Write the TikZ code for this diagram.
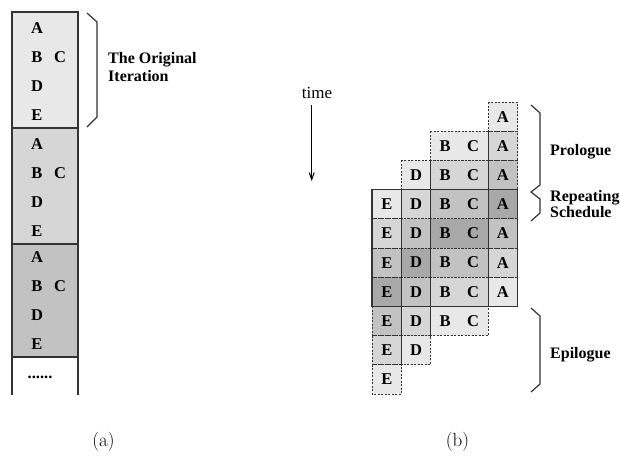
\documentclass[tikz,border=0pt]{standalone}
\usepackage{fontspec}
\newfontfamily\tms{Liberation Serif}
\usetikzlibrary{arrows.meta}
\definecolor{sA}{HTML}{E8E8E8}
\definecolor{sB}{HTML}{D6D6D6}
\definecolor{sC}{HTML}{C2C2C2}
\definecolor{sD}{HTML}{A8A8A8}
\definecolor{lineg}{HTML}{333333}
\begin{document}
\begin{tikzpicture}[x=1pt,y=-1pt,
  let/.style={font=\tms\bfseries\fontsize{16.5}{18}\selectfont, inner sep=0pt},
  lab/.style={font=\tms\bfseries\fontsize{16}{18}\selectfont, inner sep=0pt, anchor=base west},
  captxt/.style={font=\fontsize{19}{21}\selectfont, inner sep=0pt, anchor=base},
  colline/.style={draw=lineg, line width=1.2pt},
  dsh/.style={draw=lineg, line width=0.9pt, dash pattern=on 2pt off 1.5pt},
  solidbox/.style={draw=lineg, line width=1.4pt},
  brk/.style={draw=lineg, line width=1.2pt, line join=miter}]
\useasboundingbox (0,0) rectangle (620,456);

% ---------- (a) original loop ----------
\fill[sA] (12,12) rectangle (78,128);
\fill[sB] (12,128) rectangle (78,244);
\fill[sC] (12,244) rectangle (78,357);
\draw[colline] (12,395) -- (12,12) -- (78,12) -- (78,395);
\draw[colline] (12,128) -- (78,128);
\draw[colline] (12,244) -- (78,244);
\draw[colline] (12,357) -- (78,357);
\foreach \j/\o in {1/0,2/116,3/229} {
  \node[let] (lA\j) at (37,{28+\o}) {A};
  \node[let] (lB\j) at (37,{57+\o}) {B};
  \node[let] (lC\j) at (60,{57+\o}) {C};
  \node[let] (lD\j) at (37,{86+\o}) {D};
  \node[let] (lE\j) at (37,{115+\o}) {E};
}
\node[let] (dots) at (40,377) {......};

\draw[brk] (87,13) -- (97,22) -- (97,117) -- (87,127);
\node[lab] (orig1) at (108,63) {The Original};
\node[lab] (orig2) at (108,81) {Iteration};

% ---------- time arrow ----------
\node[font=\tms\fontsize{17}{19}\selectfont, inner sep=0pt, anchor=base] (time) at (317,98) {time};
\coordinate (tend) at (311.7,181);
\draw[line width=1pt, -{Straight Barb[length=7pt,width=5pt]}] (311.7,105) -- (tend);

% ---------- (b) software pipelined schedule ----------
% fills
\foreach \r/\s in {0/sA,1/sB,2/sC,3/sD,4/sC,5/sB,6/sA}
  \fill[\s] (488,{102+29.2*\r}) rectangle ++(29.5,29.2);
\foreach \r/\s in {1/sA,2/sB,3/sC,4/sD,5/sC,6/sB,7/sA}
  \fill[\s] (430.7,{102+29.2*\r}) rectangle ++(57.3,29.2);
\foreach \r/\s in {2/sA,3/sB,4/sC,5/sD,6/sC,7/sB,8/sA}
  \fill[\s] (401.5,{102+29.2*\r}) rectangle ++(29.2,29.2);
\foreach \r/\s in {3/sA,4/sB,5/sC,6/sD,7/sC,8/sB,9/sA}
  \fill[\s] (372,{102+29.2*\r}) rectangle ++(29.5,29.2);
% dashed borders
\foreach \r in {0,...,6}
  \draw[dsh] (488,{102+29.2*\r}) rectangle ++(29.5,29.2);
\foreach \r in {1,...,7}
  \draw[dsh] (430.7,{102+29.2*\r}) rectangle ++(57.3,29.2);
\foreach \r in {2,...,8}
  \draw[dsh] (401.5,{102+29.2*\r}) rectangle ++(29.2,29.2);
\foreach \r in {3,...,9}
  \draw[dsh] (372,{102+29.2*\r}) rectangle ++(29.5,29.2);
% letters
\foreach \r in {0,...,6}
  \node[let] (rA\r) at (502.75,{116.6+29.2*\r}) {A};
\foreach \r in {1,...,7} {
  \node[let] (rB\r) at (445,{116.6+29.2*\r}) {B};
  \node[let] (rC\r) at (473,{116.6+29.2*\r}) {C};
}
\foreach \r in {2,...,8}
  \node[let] (rD\r) at (416.1,{116.6+29.2*\r}) {D};
\foreach \r in {3,...,9}
  \node[let] (rE\r) at (386.75,{116.6+29.2*\r}) {E};
% repeating schedule frame
\draw[solidbox] (372,189.6) rectangle (517.5,306.4);

% brackets
\draw[brk] (531,105) -- (540,113) -- (540,185) -- (531,192) -- (540,199) -- (540,213) -- (531,221);
\draw[brk] (531,308) -- (540,316) -- (540,384) -- (531,392);
\node[lab] (pro) at (550,155) {Prologue};
\node[lab] (rep1) at (550,201.5) {Repeating};
\node[lab] (rep2) at (550,217.5) {Schedule};
\node[lab] (epi) at (550,358) {Epilogue};

% captions
\node[captxt] (capa) at (103.5,446) {(a)};
\node[captxt] (capb) at (457.5,446) {(b)};
\end{tikzpicture}
\end{document}
